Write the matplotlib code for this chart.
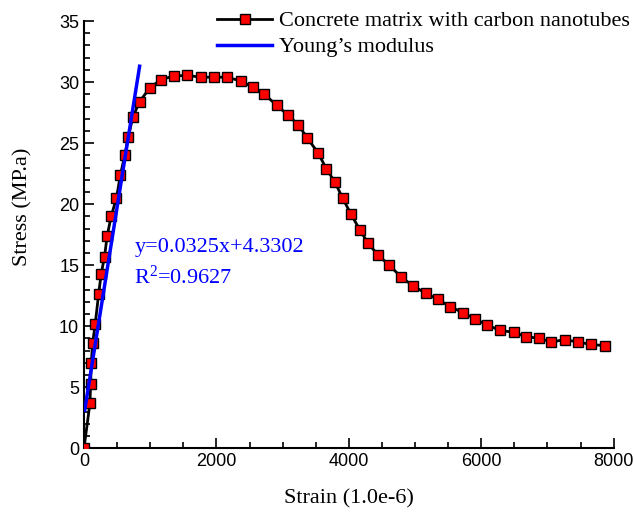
import matplotlib.pyplot as plt
from matplotlib.ticker import MultipleLocator

# measured stress-strain curve (strain in 1.0e-6, stress in MPa)
strain = [0, 90, 100, 110, 130, 170, 220, 260, 310, 350, 410, 490, 550, 615,
          670, 735, 840, 990, 1160, 1360, 1560, 1760, 1960, 2160, 2365, 2545,
          2725, 2910, 3080, 3235, 3375, 3535, 3660, 3790, 3905, 4030, 4165,
          4290, 4445, 4610, 4795, 4970, 5160, 5340, 5535, 5725, 5905, 6085,
          6285, 6490, 6670, 6870, 7060, 7260, 7460, 7660, 7865]
stress = [0, 3.7, 5.3, 7.0, 8.6, 10.2, 12.6, 14.3, 15.7, 17.4, 19.0, 20.5,
          22.4, 24.0, 25.5, 27.1, 28.4, 29.5, 30.2, 30.5, 30.55, 30.4, 30.4,
          30.4, 30.1, 29.6, 29.0, 28.1, 27.3, 26.5, 25.4, 24.2, 22.9, 21.8,
          20.5, 19.2, 17.9, 16.8, 15.8, 15.0, 14.0, 13.3, 12.7, 12.2, 11.6,
          11.1, 10.6, 10.1, 9.65, 9.5, 9.15, 9.0, 8.7, 8.9, 8.7, 8.5, 8.4]

# linear fit drawn over the elastic part
fit_x = [10, 840]
fit_y = [3.1, 31.3]

serif = 'Liberation Serif'
sans = 'Liberation Sans'
plt.rcParams['mathtext.fontset'] = 'custom'
plt.rcParams['mathtext.rm'] = serif

fig = plt.figure(figsize=(6.34, 5.14), dpi=100)
ax = fig.add_axes([0.1325, 0.128, 0.8355, 0.831])

ax.plot(strain, stress, color='black', lw=2, marker='s', ms=7,
        mfc='red', mec='black', mew=1, label='Concrete matrix with carbon nanotubes',
        zorder=3)
ax.plot(fit_x, fit_y, color='blue', lw=2.5, label="Young\u2019s modulus", zorder=4)

ax.text(760, 16.1, 'y=0.0325x+4.3302', color='blue', fontsize=16, family=serif)
ax.text(760, 13.5, 'R$\\mathrm{^2}$=0.9627', color='blue', fontsize=16, family=serif)

ax.set_xlim(0, 8000)
ax.set_ylim(0, 35)
ax.xaxis.set_major_locator(MultipleLocator(2000))
ax.xaxis.set_minor_locator(MultipleLocator(500))
ax.yaxis.set_major_locator(MultipleLocator(5))
ax.yaxis.set_minor_locator(MultipleLocator(1))
ax.tick_params(which='both', direction='in', width=1.2, labelsize=13)
ax.tick_params(which='major', length=7)
ax.tick_params(which='minor', length=4)
for lab in ax.get_xticklabels() + ax.get_yticklabels():
    lab.set_family(sans)
for s in ['top', 'right']:
    ax.spines[s].set_visible(False)
for s in ['left', 'bottom']:
    ax.spines[s].set_linewidth(1.5)

ax.set_xlabel('Strain (1.0e-6)', fontsize=16, family=serif)
ax.set_ylabel('Stress (MP.a)', fontsize=16, family=serif)
ax.xaxis.set_label_coords(0.5, -0.095)
ax.yaxis.set_label_coords(-0.097, 0.565)

fig.legend(loc='upper left', bbox_to_anchor=(0.322, 1.005), frameon=False,
           prop={'family': serif, 'size': 16}, handlelength=2.45,
           handletextpad=0.3, labelspacing=0.25, borderaxespad=0.2)

fig.savefig('out.png', dpi=100)
